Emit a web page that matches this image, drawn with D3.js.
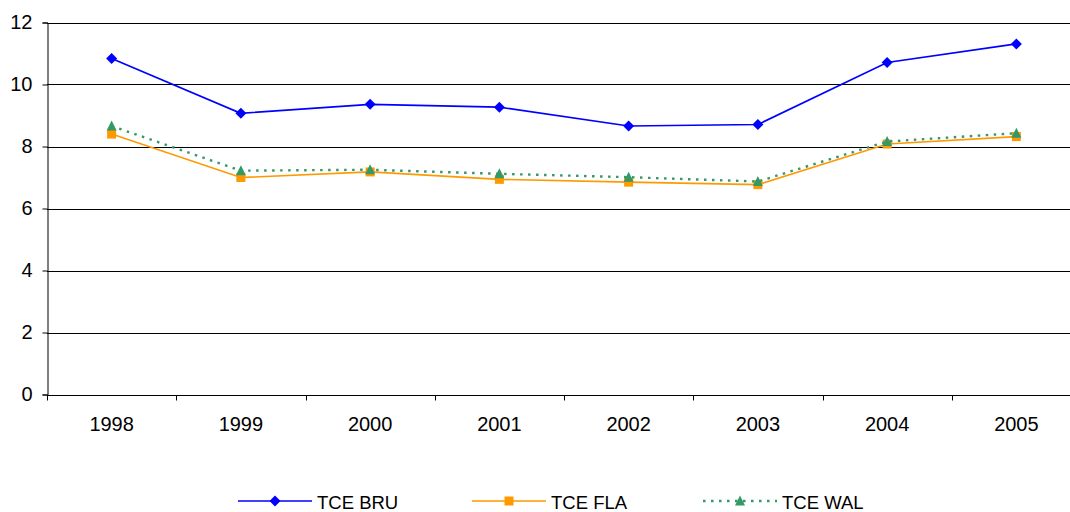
<!DOCTYPE html>
<html>
<head>
<meta charset="utf-8">
<script src="https://cdn.jsdelivr.net/npm/d3@7"></script>
<style>
  html, body { margin: 0; padding: 0; background: #fff; }
  svg { display: block; font-family: "Liberation Sans", Arial, sans-serif; }
</style>
</head>
<body>
<svg id="chart" width="1070" height="512"></svg>
<script>
// Years and series values
const years = ["1998", "1999", "2000", "2001", "2002", "2003", "2004", "2005"];
const tceBRU = [10.84, 9.07, 9.36, 9.27, 8.66, 8.71, 10.71, 11.31];
const tceFLA = [8.40, 7.00, 7.18, 6.94, 6.85, 6.77, 8.08, 8.32];
const tceWAL = [8.66, 7.22, 7.25, 7.12, 7.01, 6.87, 8.16, 8.43];
const yTicks = [0, 2, 4, 6, 8, 10, 12];

const series = [
  { name: "TCE BRU", values: tceBRU, color: "#0000ff", dash: null, marker: "diamond" },
  { name: "TCE FLA", values: tceFLA, color: "#ff9900", dash: null, marker: "square" },
  { name: "TCE WAL", values: tceWAL, color: "#339966", dash: "2.5,5.5", marker: "triangle" }
];

const svg = d3.select("#chart");
const plot = { left: 47, right: 1081, top: 22.5, bottom: 394.5 };

const x = d3.scaleBand().domain(years).range([plot.left, plot.right]);
const y = d3.scaleLinear().domain([0, 12]).range([plot.bottom, plot.top]);

// Horizontal gridlines
svg.append("g")
  .selectAll("line")
  .data(yTicks.filter(d => d > 0))
  .join("line")
  .attr("x1", plot.left).attr("x2", plot.right)
  .attr("y1", d => Math.round(y(d)) + 0.5).attr("y2", d => Math.round(y(d)) + 0.5)
  .attr("stroke", "#000").attr("stroke-width", 1);

// Y axis
const yAxis = svg.append("g")
  .attr("transform", `translate(${plot.left + 0.5},0)`)
  .call(d3.axisLeft(y).tickValues(yTicks).tickSize(5).tickPadding(10).tickFormat(d3.format("d")));
yAxis.select(".domain").attr("stroke", "#000");
yAxis.selectAll(".tick line").attr("stroke", "#000");
yAxis.selectAll("text").attr("font-size", 20).attr("fill", "#000")
  .attr("font-family", "'Liberation Sans', Arial, sans-serif");

// X axis with ticks between categories
const xAxis = svg.append("g")
  .attr("transform", `translate(0,${Math.round(plot.bottom) + 0.5})`);
xAxis.append("line")
  .attr("x1", plot.left).attr("x2", plot.right)
  .attr("stroke", "#000");
const boundaries = years.map(d => x(d)).concat([x(years[years.length - 1]) + x.bandwidth()]);
xAxis.selectAll("line.tk")
  .data(boundaries)
  .join("line")
  .attr("class", "tk")
  .attr("x1", d => Math.round(d) + 0.5).attr("x2", d => Math.round(d) + 0.5)
  .attr("y1", 0).attr("y2", 5)
  .attr("stroke", "#000");
xAxis.selectAll("text")
  .data(years)
  .join("text")
  .attr("x", d => x(d) + x.bandwidth() / 2)
  .attr("y", 35)
  .attr("text-anchor", "middle")
  .attr("font-size", 20)
  .attr("fill", "#000")
  .text(d => d);

// Marker shapes
const markerPath = {
  diamond: "M0,-5.5L5.5,0L0,5.5L-5.5,0Z",
  square: "M-4.5,-4.5H4.5V4.5H-4.5Z",
  triangle: "M0,-5.5L5,4.5H-5Z"
};

const line = d3.line()
  .x((d, i) => x(years[i]) + x.bandwidth() / 2)
  .y(d => y(d));

series.forEach(s => {
  const g = svg.append("g");
  g.append("path")
    .datum(s.values)
    .attr("d", line)
    .attr("fill", "none")
    .attr("stroke", s.color)
    .attr("stroke-width", s.dash ? 2.4 : 1.6)
    .attr("stroke-dasharray", s.dash);
  g.selectAll("path.m")
    .data(s.values)
    .join("path")
    .attr("class", "m")
    .attr("d", markerPath[s.marker])
    .attr("transform", (d, i) => `translate(${x(years[i]) + x.bandwidth() / 2},${y(d)})`)
    .attr("fill", s.color);
});

// Legend
const legendX = [238, 472, 703];
const legend = svg.append("g").attr("transform", "translate(0,501)");
series.forEach((s, i) => {
  const g = legend.append("g").attr("transform", `translate(${legendX[i]},0)`);
  g.append("line")
    .attr("x1", 0).attr("x2", 74).attr("y1", 0).attr("y2", 0)
    .attr("stroke", s.color)
    .attr("stroke-width", s.dash ? 2.4 : 1.6)
    .attr("stroke-dasharray", s.dash);
  g.append("path")
    .attr("d", markerPath[s.marker])
    .attr("transform", "translate(37,0)")
    .attr("fill", s.color);
  g.append("text")
    .attr("x", 79)
    .attr("y", 8)
    .attr("font-size", 18.5)
    .attr("fill", "#000")
    .text(s.name);
});
</script>
</body>
</html>
